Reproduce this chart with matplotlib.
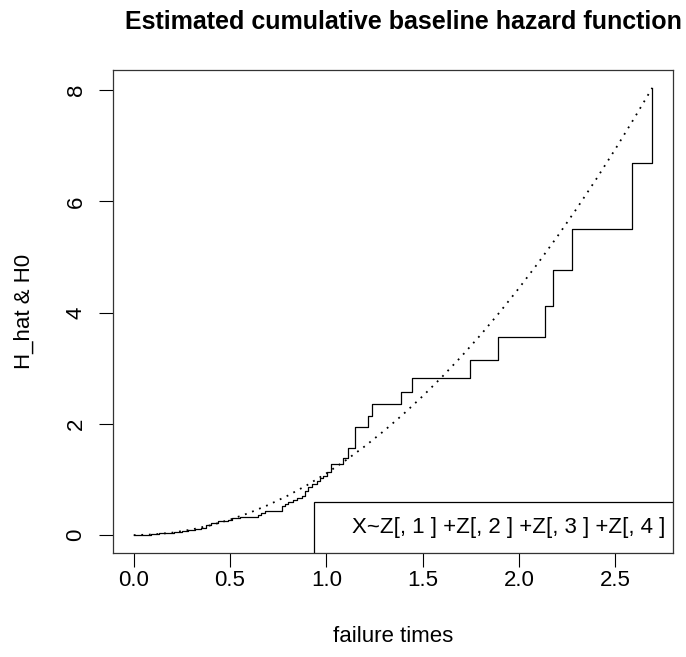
import matplotlib
matplotlib.use("Agg")
import matplotlib.pyplot as plt
from matplotlib.patches import Rectangle

# Estimated cumulative baseline hazard (step function): jump times and values after each jump
step_times = [0.00, 0.05, 0.09, 0.13, 0.17, 0.21, 0.25, 0.28, 0.32, 0.35, 0.375, 0.40,
              0.44, 0.49, 0.51, 0.55, 0.646, 0.66, 0.68, 0.768, 0.785, 0.80, 0.828, 0.85,
              0.871, 0.89, 0.906, 0.923, 0.95, 0.965, 0.983, 1.005, 1.022, 1.084, 1.113,
              1.151, 1.214, 1.238, 1.385, 1.445, 1.746, 1.893, 2.137, 2.176, 2.275,
              2.585, 2.692]
H_hat = [0.00, 0.01, 0.02, 0.03, 0.045, 0.06, 0.075, 0.09, 0.105, 0.12, 0.19, 0.21,
         0.245, 0.27, 0.30, 0.32, 0.36, 0.40, 0.43, 0.53, 0.56, 0.60, 0.63, 0.67,
         0.71, 0.79, 0.86, 0.92, 0.98, 1.02, 1.07, 1.13, 1.27, 1.39, 1.57,
         1.94, 2.14, 2.36, 2.58, 2.82, 3.14, 3.57, 4.11, 4.76, 5.50,
         6.69, 8.04]

# True cumulative baseline hazard H0 (dotted curve)
H0_times = [0.0, 0.1, 0.2, 0.3, 0.4, 0.5, 0.6, 0.7, 0.8, 0.9, 1.0, 1.1, 1.2, 1.3, 1.4,
            1.5, 1.6, 1.7, 1.8, 1.9, 2.0, 2.1, 2.2, 2.3, 2.4, 2.5, 2.6, 2.692]
H0_vals = [0.0, 0.011, 0.044, 0.100, 0.178, 0.278, 0.400, 0.544, 0.710, 0.899, 1.110,
           1.343, 1.598, 1.876, 2.176, 2.498, 2.842, 3.208, 3.596, 4.007, 4.44, 4.895,
           5.372, 5.872, 6.394, 6.938, 7.504, 8.04]

x_ticks = [0.0, 0.5, 1.0, 1.5, 2.0, 2.5]
x_tick_labels = ["0.0", "0.5", "1.0", "1.5", "2.0", "2.5"]
y_ticks = [0, 2, 4, 6, 8]
y_tick_labels = ["0", "2", "4", "6", "8"]

title = "Estimated cumulative baseline hazard function"
xlabel = "failure times"
ylabel = "H_hat & H0"
legend_text = "X~Z[, 1 ] +Z[, 2 ] +Z[, 3 ] +Z[, 4 ]"

plt.rcParams['font.family'] = ['Liberation Sans', 'DejaVu Sans']

W, H = 686, 657
fig = plt.figure(figsize=(W / 100, H / 100), dpi=100)
L, R, T, B = 113, 673, 70, 553
ax = fig.add_axes([L / W, 1 - B / H, (R - L) / W, (B - T) / H])

ax.step(step_times, H_hat, where='post', color='black', lw=0.9)
ax.plot(H0_times, H0_vals, color='black', lw=1.3, linestyle=(0, (1.0, 3.2)))

xmax = max(step_times)
ymax = max(max(H_hat), max(H0_vals))
ax.set_xlim(-0.04 * xmax, 1.04 * xmax)
ax.set_ylim(-0.04 * ymax, 1.04 * ymax)

ax.set_xticks(x_ticks)
ax.set_xticklabels(x_tick_labels)
ax.set_yticks(y_ticks)
ax.set_yticklabels(y_tick_labels, rotation=90, va='center')
ax.tick_params(axis='both', direction='out', length=10, width=0.8, labelsize=16, colors='black')
ax.tick_params(axis='x', pad=2.5)
ax.tick_params(axis='y', pad=9)
for s in ax.spines.values():
    s.set_linewidth(0.9)
    s.set_color('#333333')

fig.text(403 / W, 1 - 22 / H, title, ha='center', va='center',
         fontsize=18, fontweight='bold')
fig.text(0.5 * (L + R) / W, 1 - 637 / H, xlabel, ha='center', va='center', fontsize=16)
fig.text(24 / W, 1 - 0.5 * (T + B) / H, ylabel, ha='center', va='center',
         rotation=90, fontsize=16)

# legend box (bottom right, no symbols)
lx0 = (314 - L) / (R - L)
ly1 = (B - 501.7) / (B - T)
ax.add_patch(Rectangle((lx0, 0), 1 - lx0, ly1, transform=ax.transAxes,
                       facecolor='white', edgecolor='black', lw=0.9, zorder=5))
ax.text((352 - L) / (R - L), ly1 / 2, legend_text, transform=ax.transAxes,
        ha='left', va='center', fontsize=16, zorder=6)

fig.savefig("out.png", dpi=100)
